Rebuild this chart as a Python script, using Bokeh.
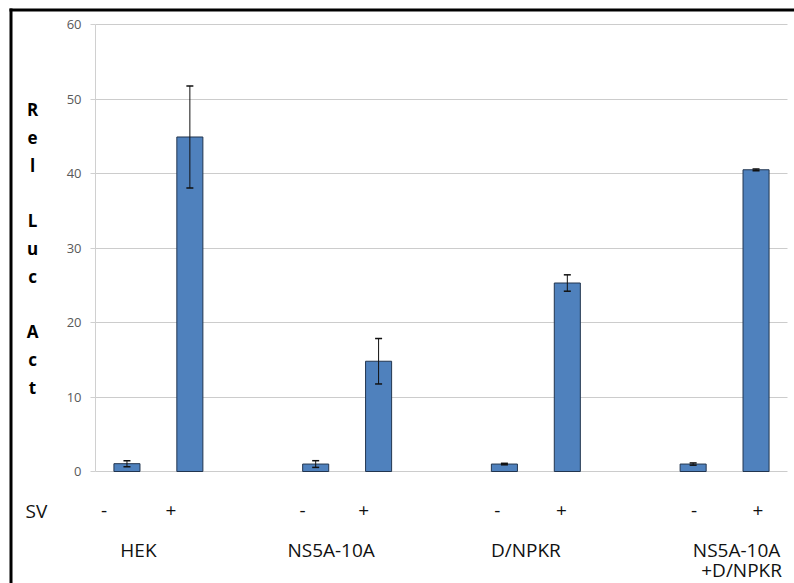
from bokeh.plotting import figure
from bokeh.models import (Range1d, LinearAxis, FixedTicker, Grid, ColumnDataSource,
                          Whisker, TeeHead, BoxAnnotation)
from bokeh.core.properties import value
from bokeh.embed import file_html
from bokeh.resources import INLINE

# ---- data -------------------------------------------------------------
groups = ["HEK", "NS5A-10A", "D/NPKR", "NS5A-10A\n+D/NPKR"]
sv_signs = ["-", "+"]
# relative luciferase activity, (-SV, +SV) for each group in order
rel_luc = [1.05, 44.9, 1.0, 14.8, 1.0, 25.3, 1.0, 40.5]
rel_luc_err = [0.4, 6.85, 0.45, 3.05, 0.1, 1.1, 0.15, 0.12]
y_ticks = [0, 10, 20, 30, 40, 50, 60]
y_title = ["Rel", "Luc", "Act"]

# ---- layout (canvas pixels) -------------------------------------------
W, H = 794, 583
LEFT, RIGHT, TOP, ZERO_PX = 95, 787, 24, 471
Y_MAX = 60
FONT = value("Open Sans")
n_slots = 3 * len(groups) - 1           # two bars per group plus a gap
slot_w = (RIGHT - LEFT) / n_slots
px_per_unit = (ZERO_PX - TOP) / Y_MAX


def x_at(px):
    """data x for a canvas pixel column"""
    return (px - LEFT) / slot_w - 0.5


def y_at(px):
    """data y for a canvas pixel row"""
    return (ZERO_PX - px) / px_per_unit


# pixel nudges of the row labels relative to their bars / groups
sign_dx = [-23, -19, -13, -15, -7, -6, 1, 2]
name_dx = [-20, -16, -10, 12]
name_line_dx = [0, 5]

slots = [3 * g + c for g in range(len(groups)) for c in range(2)]
src = ColumnDataSource(dict(
    x=slots,
    top=rel_luc,
    upper=[v + e for v, e in zip(rel_luc, rel_luc_err)],
    lower=[v - e for v, e in zip(rel_luc, rel_luc_err)],
))

p = figure(width=W, height=H, output_backend="svg", toolbar_location=None,
           x_range=Range1d(x_at(0), x_at(W)), y_range=Range1d(y_at(H), y_at(0)),
           x_axis_type=None, y_axis_type=None,
           min_border_left=0, min_border_right=0,
           min_border_top=0, min_border_bottom=0,
           outline_line_color=None, background_fill_color="white",
           border_fill_color="white")

# value axis sits at the left edge of the bar area
yaxis = LinearAxis(bounds=(0, Y_MAX), ticker=FixedTicker(ticks=y_ticks),
                   fixed_location=-0.5)
yaxis.axis_line_color = "#d0d0d0"
yaxis.major_tick_line_color = "#d0d0d0"
yaxis.major_tick_out = 5
yaxis.major_tick_in = 0
yaxis.minor_tick_line_color = None
yaxis.major_label_text_font = "Open Sans"
yaxis.major_label_text_font_size = "13px"
yaxis.major_label_text_color = "#595959"
yaxis.major_label_standoff = 9
p.add_layout(yaxis, "left")

grid = Grid(dimension=1, ticker=FixedTicker(ticks=y_ticks),
            cross_bounds=(-0.5, n_slots - 0.5),
            grid_line_color="#cccccc", grid_line_width=1)
p.add_layout(grid)

p.vbar(x="x", top="top", bottom=0, width=0.414, source=src,
       fill_color="#4f81bd", line_color="#22354f", line_width=1)

whisk = Whisker(source=src, base="x", upper="upper", lower="lower",
                line_color="#111111", line_width=1,
                upper_head=TeeHead(size=7, line_color="#111111", line_width=1.5),
                lower_head=TeeHead(size=7, line_color="#111111", line_width=1.5))
whisk.level = "overlay"
p.add_layout(whisk)

# SV -/+ row under the bars
p.text(x=slots, y=[y_at(510)] * len(slots), text=sv_signs * len(groups),
       x_offset=sign_dx, text_font=FONT, text_font_size="19px",
       text_align="center", text_baseline="alphabetic", text_color="#111111")

# group names (multi-line names are stacked)
nx, ny, nt, ndx = [], [], [], []
for g, name in enumerate(groups):
    for i, line in enumerate(name.split("\n")):
        nx.append(3 * g + 0.5)
        ny.append(y_at(549 + 20 * i))
        nt.append(line)
        ndx.append(name_dx[g] + name_line_dx[i])
p.text(x=nx, y=ny, text=nt, x_offset=ndx, text_font=FONT, text_font_size="19px",
       text_align="center", text_baseline="alphabetic", text_color="#111111")

# "SV" row header
p.text(x=[x_at(25)], y=[y_at(510)], text=["SV"], text_font=FONT,
       text_font_size="19px", text_align="left", text_baseline="alphabetic",
       text_color="#111111")

# vertical axis title, one letter per row
letters = list(" ".join(y_title))
lx, ly, lt = [], [], []
for i, ch in enumerate(letters):
    if ch != " ":
        lx.append(x_at(32))
        ly.append(y_at(109 + 27.8 * i))
        lt.append(ch)
p.text(x=lx, y=ly, text=lt, text_font=FONT, text_font_style="bold",
       text_font_size="17px", text_align="center", text_baseline="middle",
       text_color="#000000")

# frame lines along the top and left edges
p.add_layout(BoxAnnotation(left=9, right=W, top=H - 8, bottom=H - 11,
                           left_units="screen", right_units="screen",
                           top_units="screen", bottom_units="screen",
                           fill_color="black", fill_alpha=1, line_alpha=0,
                           level="overlay"))
p.add_layout(BoxAnnotation(left=9, right=12, top=H - 8, bottom=-5,
                           left_units="screen", right_units="screen",
                           top_units="screen", bottom_units="screen",
                           fill_color="black", fill_alpha=1, line_alpha=0,
                           level="overlay"))

open("out.html", "w").write(file_html(p, INLINE))
